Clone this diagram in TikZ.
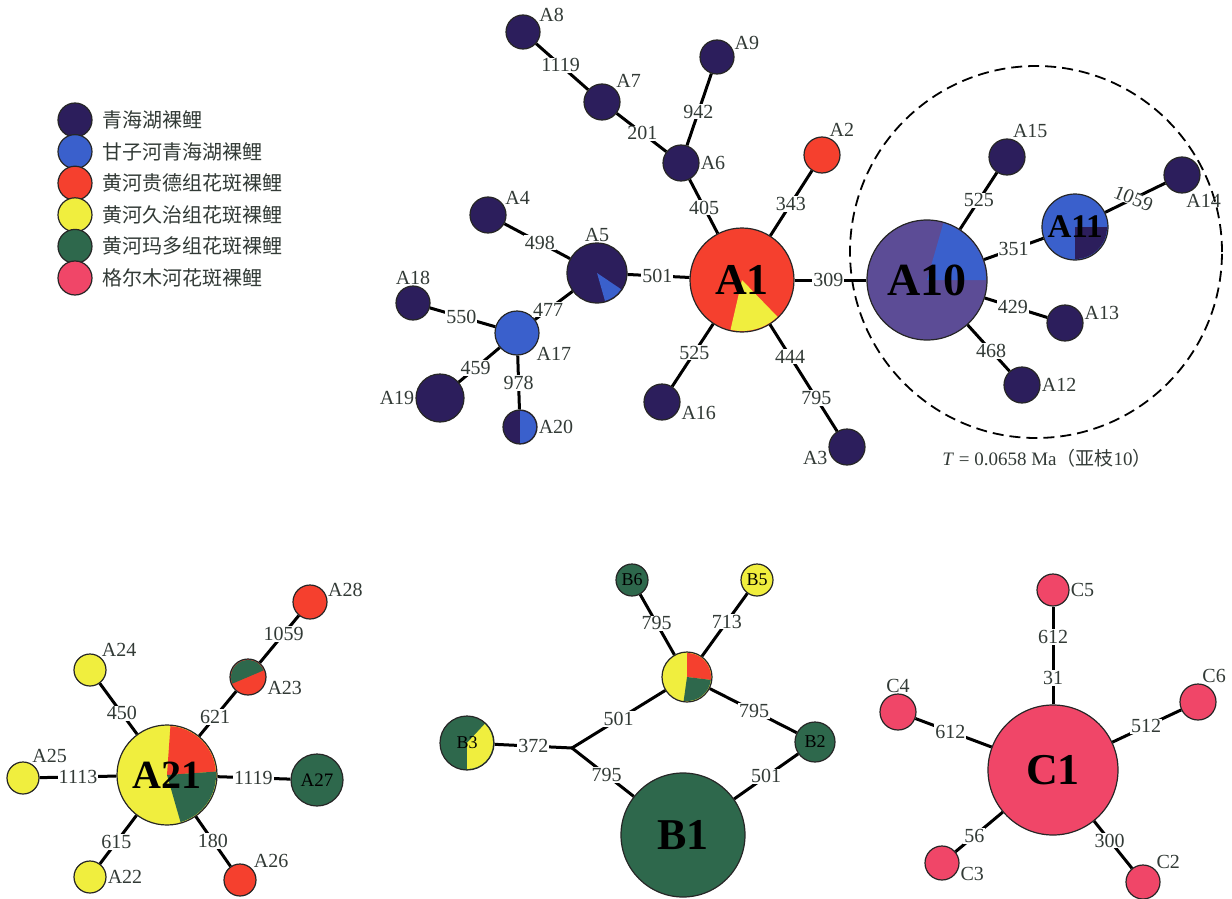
\documentclass[tikz,border=0pt]{standalone}
\usepackage{fontspec}
\setmainfont{Liberation Serif}
\newfontfamily\cjk{Noto Sans CJK SC}
\usepackage{tikz}
\usetikzlibrary{positioning}
\definecolor{cnavy}{RGB}{44,30,92}
\definecolor{cblue}{RGB}{58,96,204}
\definecolor{cred}{RGB}{245,64,46}
\definecolor{cyel}{RGB}{240,238,62}
\definecolor{cgreen}{RGB}{46,104,76}
\definecolor{cpink}{RGB}{240,70,104}
\definecolor{cpurp}{RGB}{92,76,150}
\definecolor{ctext}{RGB}{50,58,54}
\newcommand{\hapslice}[5]{%
  \fill[#5] (#1.center) -- ++(#3:#2) arc[start angle=#3,end angle=#4,radius=#2] -- cycle;}

\begin{document}
\begin{tikzpicture}[x=1pt,y=1pt,
    hap/.style={circle,draw=black!85,line width=1.2pt,inner sep=0pt,minimum size=#1},
    edge/.style={line width=3pt},
    num/.style={fill=white,inner sep=1pt,text=ctext,font=\fontsize{20}{20}\selectfont},
    every label/.style={inner sep=1pt,text=ctext,font=\fontsize{20}{20}\selectfont},
    big/.style={font=\fontsize{44}{44}\selectfont\bfseries,inner sep=0pt},
    legtxt/.style={text=ctext,inner sep=0pt,font=\fontsize{20}{20}\selectfont\cjk}]
  \useasboundingbox (0,0) rectangle (1232,-899);

  % legend
  \foreach \c/\t [count=\i] in {cnavy/青海湖裸鲤,cblue/甘子河青海湖裸鲤,cred/黄河贵德组花斑裸鲤,
      cyel/黄河久治组花斑裸鲤,cgreen/黄河玛多组花斑裸鲤,cpink/格尔木河花斑裸鲤}{
    \node[hap=34pt,fill=\c] (leg\i) at (75,{-120-31.6*(\i-1)}) {};
    \node[legtxt,right=10pt of leg\i] (legt\i) {\t};
  }

  % network A
  \node[hap=104pt,fill=cred] (A1) at (742,-280) {};
  \hapslice{A1}{51}{-103}{-46}{cyel}
  \node[big] (A1t) at (A1) {A1};
  \node[hap=36pt,fill=cred,label=70:A2] (A2) at (822,-155) {};
  \node[hap=36pt,fill=cnavy,label=190:A3] (A3) at (847,-447) {};
  \node[hap=36pt,fill=cnavy,label=30:A4] (A4) at (488,-215) {};
  \node[hap=60pt,fill=cnavy,label=90:A5] (A5) at (597,-273) {};
  \hapslice{A5}{29}{-74}{-34}{cblue}
  \node[hap=36pt,fill=cnavy,label=0:A6] (A6) at (681,-163) {};
  \node[hap=36pt,fill=cnavy,label=45:A7] (A7) at (602,-102) {};
  \node[hap=34pt,fill=cnavy,label=30:A8] (A8) at (523,-32) {};
  \node[hap=34pt,fill=cnavy,label=20:A9] (A9) at (717,-57) {};
  \node[hap=36pt,fill=cnavy,label=-10:A16] (A16) at (662,-402) {};
  \node[hap=44pt,fill=cblue,label=-35:A17] (A17) at (517,-333) {};
  \node[hap=34pt,fill=cnavy,label=90:A18] (A18) at (413,-303) {};
  \node[hap=48pt,fill=cnavy,label=180:A19] (A19) at (440,-398) {};
  \node[hap=34pt,fill=cnavy,label=0:A20] (A20) at (520,-427) {};
  \hapslice{A20}{16}{-90}{90}{cblue}

  \draw[dashed,dash pattern=on 11pt off 6pt,line width=1.8pt] (1036,-252) circle[radius=186];
  \node[hap=120pt,fill=cpurp] (A10) at (927,-280) {};
  \hapslice{A10}{59}{0}{74}{cblue}
  \node[big,font=\fontsize{46}{46}\selectfont\bfseries] (A10t) at (A10) {A10};
  \node[hap=66pt,fill=cblue] (A11) at (1075,-227) {};
  \hapslice{A11}{32}{-90}{0}{cnavy}
  \node[big,font=\fontsize{33}{33}\selectfont\bfseries] (A11t) at (A11) {A11};
  \node[hap=36pt,fill=cnavy,label=0:A12] (A12) at (1022,-385) {};
  \node[hap=36pt,fill=cnavy,label=5:A13] (A13) at (1065,-323) {};
  \node[hap=36pt,fill=cnavy,label=-80:A14] (A14) at (1182,-175) {};
  \node[hap=36pt,fill=cnavy,label=75:A15] (A15) at (1007,-157) {};
  \node[inner sep=0pt,text=ctext,font=\fontsize{19}{19}\selectfont] (Tval) at (1047,-458)
    {\textit{T} = 0.0658 Ma{\cjk（亚枝}10{\cjk）}};

  \draw[edge] (A8) -- node[num,pos=.47] {1119} (A7);
  \draw[edge] (A7) -- node[num,pos=.52] {201} (A6);
  \draw[edge] (A6) -- node[num,pos=.47] {942} (A9);
  \draw[edge] (A6) -- node[num,pos=.52] {405} (A1);
  \draw[edge] (A1) -- node[num,pos=.49] {343} (A2);
  \draw[edge] (A1) -- node[num,pos=.47] {309} (A10);
  \draw[edge] (A1) -- node[num,pos=.46] {525} (A16);
  \draw[edge] (A1) -- node[num,pos=.30] {444} node[num,pos=.69] {795} (A3);
  \draw[edge] (A1) -- node[num,pos=.52] {501} (A5);
  \draw[edge] (A5) -- node[num,pos=.46] {498} (A4);
  \draw[edge] (A5) -- node[num,pos=.65] {477} (A17);
  \draw[edge] (A17) -- node[num,pos=.52] {550} (A18);
  \draw[edge] (A17) -- node[num,pos=.59] {459} (A19);
  \draw[edge] (A17) -- node[num,pos=.51] {978} (A20);
  \draw[edge] (A10) -- node[num,pos=.51] {525} (A15);
  \draw[edge] (A10) -- node[num,pos=.50] {351} (A11);
  \draw[edge] (A11) -- node[num,pos=.47,rotate=-22,inner sep=0pt] {1059} (A14);
  \draw[edge] (A10) -- node[num,pos=.45] {429} (A13);
  \draw[edge] (A10) -- node[num,pos=.56] {468} (A12);

  % network A21
  \node[hap=100pt,fill=cyel] (A21) at (167,-775) {};
  \hapslice{A21}{49}{4}{86}{cred}
  \hapslice{A21}{49}{-74}{4}{cgreen}
  \node[big,font=\fontsize{40}{40}\selectfont\bfseries] (A21t) at (A21) {A21};
  \node[hap=32pt,fill=cyel,label=0:A22] (A22) at (90,-877) {};
  \node[hap=36pt,fill=cred,label=-10:A23] (A23) at (248,-677) {};
  \hapslice{A23}{17}{23}{203}{cgreen}
  \node[hap=32pt,fill=cyel,label=50:A24] (A24) at (90,-670) {};
  \node[hap=32pt,fill=cyel,label=60:A25] (A25) at (23,-778) {};
  \node[hap=32pt,fill=cred,label=40:A26] (A26) at (240,-880) {};
  \node[hap=52pt,fill=cgreen,font=\fontsize{19}{19}\selectfont] (A27) at (317,-780) {A27};
  \node[hap=34pt,fill=cred,label=15:A28] (A28) at (310,-602) {};

  \draw[edge] (A21) -- node[num,pos=.41] {450} (A24);
  \draw[edge] (A21) -- node[num,pos=.43] {621} (A23);
  \draw[edge] (A23) -- node[num,pos=.61] {1059} (A28);
  \draw[edge] (A21) -- node[num,pos=.50] {1113} (A25);
  \draw[edge] (A21) -- node[num,pos=.49] {1119} (A27);
  \draw[edge] (A21) -- node[num,pos=.55] {615} (A22);
  \draw[edge] (A21) -- node[num,pos=.49] {180} (A26);

  % network B
  \node[hap=124pt,fill=cgreen,big] (B1) at (683,-835) {B1};
  \node[hap=40pt,fill=cgreen,font=\fontsize{18}{18}\selectfont] (B2) at (815,-742) {B2};
  \node[hap=54pt,fill=cgreen] (B3) at (467,-743) {};
  \hapslice{B3}{26}{-90}{47}{cyel}
  \node[inner sep=0pt,font=\fontsize{18}{18}\selectfont] (B3t) at (B3) {B3};
  \node[hap=50pt,fill=cyel] (B4) at (687,-677) {};
  \hapslice{B4}{24}{-7}{90}{cred}
  \hapslice{B4}{24}{-98}{-7}{cgreen}
  \node[hap=32pt,fill=cyel,font=\fontsize{18}{18}\selectfont] (B5) at (757,-580) {B5};
  \node[hap=32pt,fill=cgreen,font=\fontsize{18}{18}\selectfont] (B6) at (632,-580) {B6};
  \coordinate (J) at (572,-748);

  \draw[edge] (B4) -- node[num,pos=.52] {795} (B6);
  \draw[edge] (B4) -- node[num,pos=.55] {713} (B5);
  \draw[edge] (B4) -- node[num,pos=.51] {795} (B2);
  \draw[edge] (J) -- node[num,pos=.50] {501} (B4);
  \draw[edge] (B3) -- node[num,pos=.50] {372} (J);
  \draw[edge] (J) -- node[num,pos=.56] {795} (B1);
  \draw[edge] (B2) -- node[num,pos=.50] {501} (B1);

  % network C
  \node[hap=130pt,fill=cpink,big] (C1) at (1053,-770) {C1};
  \node[hap=34pt,fill=cpink,label=45:C2] (C2) at (1143,-882) {};
  \node[hap=34pt,fill=cpink,label=-10:C3] (C3) at (942,-863) {};
  \node[hap=36pt,fill=cpink,label=90:C4] (C4) at (898,-712) {};
  \node[hap=32pt,fill=cpink,label=0:C5] (C5) at (1053,-590) {};
  \node[hap=36pt,fill=cpink,label=80:C6] (C6) at (1198,-702) {};

  \draw[edge] (C1) -- node[num,pos=.27] {31} node[num,pos=.69] {612} (C5);
  \draw[edge] (C1) -- node[num,pos=.54] {612} (C4);
  \draw[edge] (C1) -- node[num,pos=.49] {512} (C6);
  \draw[edge] (C1) -- node[num,pos=.60] {56} (C3);
  \draw[edge] (C1) -- node[num,pos=.41] {300} (C2);
\end{tikzpicture}
\end{document}
